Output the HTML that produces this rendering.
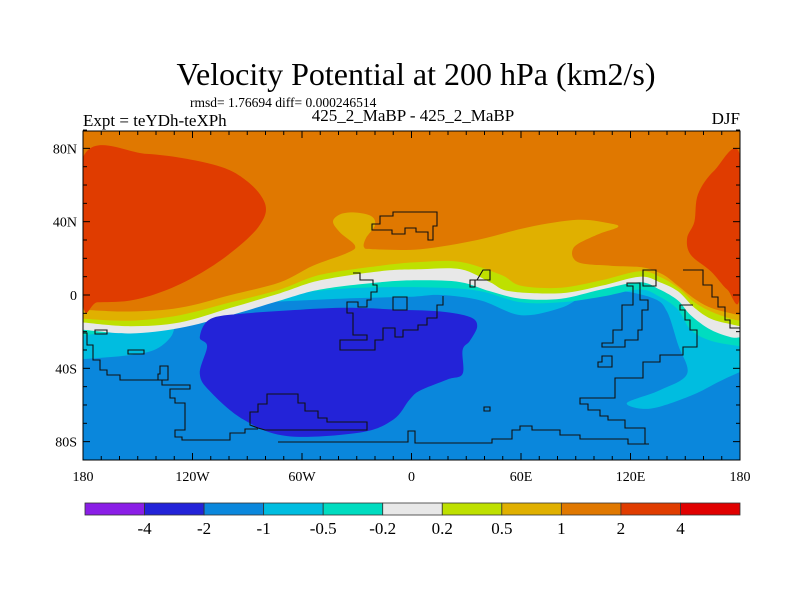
<!DOCTYPE html>
<html><head><meta charset="utf-8"><style>
body{margin:0;background:#fff;}
svg text{font-family:"Liberation Serif",serif;fill:#000;}
</style></head><body>
<svg id="chart" width="800" height="600" viewBox="0 0 800 600" xmlns="http://www.w3.org/2000/svg">
<rect width="800" height="600" fill="#fff"/>
<text x="416" y="85" font-size="32" text-anchor="middle">Velocity Potential at 200 hPa (km2/s)</text>
<text x="190" y="107" font-size="13.5">rmsd= 1.76694 diff= 0.000246514</text>
<text x="83" y="126" font-size="17">Expt = teYDh-teXPh</text>
<text x="413" y="121" font-size="17" text-anchor="middle">425_2_MaBP - 425_2_MaBP</text>
<text x="740" y="124" font-size="17" text-anchor="end">DJF</text>
<defs><clipPath id="pc"><rect x="83" y="131" width="657" height="329"/></clipPath></defs>
<g id="fills" clip-path="url(#pc)"></g>
<g id="coast" clip-path="url(#pc)" fill="none" stroke="#111" stroke-width="1.1">
<path d="M83,333H87V345H93V360H100V370H107V375H120V380H162V385H190V389H170V398H175V403H185V430H175V437H182V440H230V433H245V429H258"/>
<path d="M250,425V412H258V404H267V394H298V403H305V411H318V418H327V422H367V430H265L258,428Z"/>
<path d="M278,442H408V431H415V443H492V439H512V430H520V426H532V430H560V435H580V439H628V444H649"/>
<path d="M353,273H360V280H373V285H377V292H371V300H367V307H358V302H347V313H353V335H367V340H340V350H375V340H383V328H395V337H403V330H418V325H427V318H437V305H443V296"/>
<path d="M372,230V224H380V216H393V212H437V226H433V240H428V232H416V228H405V234H392V230Z"/>
<path d="M393,297H407V310H393Z"/>
<path d="M483,270H490V280H475V287H470V280H477Z"/>
<path d="M627,283V286H633V305H622V330H613V343H602V347H625V340H638V330H642V310H648V300H640V283Z"/>
<path d="M602,356H612V367H598V362H602Z"/>
<path d="M643,270H656V286H643Z"/>
<path d="M683,270H703V285H712V297H718V307H725V320H730V328H740"/>
<path d="M693,305H680V310H685V320H690V330H697V347H683V355H660V362H643V378H615V398H580V404H588V410H600V416H608V420H625V428H645V434H645V444"/>
<path d="M128,350H144V354H128Z"/>
<path d="M95,330H107V334H95Z"/>
<path d="M160,366H168V380H158V374H160Z"/>
<path d="M484,407H490V411H484Z"/>
</g>
<rect x="83" y="131" width="657" height="329" fill="none" stroke="#000" stroke-width="1"/>
<g id="axes"></g>
<g id="cbar"></g>
</svg>
<script>
const levels = [-4, -2, -1, -0.5, -0.2, 0.2, 0.5, 1, 2, 4];
const colors = ["#8a1ee6","#2323d8","#0a87dc","#00bde0","#00dcc0","#e8e8e8","#bee000","#e0b000","#e07800","#e03c00","#e00000"];
const latTicks = [80, 40, 0, -40, -80];
const lonTicks = [-180, -120, -60, 0, 60, 120, 180];
const lonLabels = ["180","120W","60W","0","60E","120E","180"];
const latLabels = ["80N","40N","0","40S","80S"];
const cNeg1 = [[-180,-35],[-156,-33],[-141,-30],[-132,-23],[-128,-14],[-119,-8],[-101,-4],[-83,-4],[-39,-2],[-1,-1],[16,0],[38,-3],[60,-11],[82,-7],[96,0],[115,2],[133,-2],[140,-9],[146,-27],[151,-43],[136,-52],[118,-59],[131,-62],[153,-55],[169,-47],[180,-42]];
const cNeg05 = [[-180,-22],[-156,-19],[-141,-13],[-128,-7],[-101,-2],[-65,1],[-28,4],[16,4],[38,2],[60,-4],[82,-4],[104,-1],[125,3],[136,-1],[146,-8],[153,-19],[164,-25],[180,-28]];
const cNeg02 = [[-180,-19],[-154,-21],[-127,-18],[-99,-11],[-72,-3],[-50,3],[-17,7],[5,8],[27,7],[43,2],[60,-2],[82,-2],[104,3],[125,7],[136,3],[146,-3],[153,-11],[164,-19],[175,-23],[180,-23]];
const cPos02 = [[-180,-15],[-154,-17],[-127,-15],[-99,-7],[-72,1],[-50,8],[-17,13],[5,14],[27,14],[43,7],[54,2],[82,1],[104,5],[125,10],[136,7],[146,2],[155,-7],[164,-13],[175,-16],[180,-17]];
const cPos05 = [[-180,-13],[-154,-14],[-127,-11],[-99,-4],[-72,3],[-50,11],[-17,16],[5,18],[27,18],[49,11],[60,5],[82,4],[104,8],[125,13],[136,10],[146,4],[155,-4],[164,-9],[175,-13],[180,-14]];
const cPos1 = [[-180,-8],[-154,-9],[-127,-7],[-99,0],[-72,7],[-54,16],[-35,23],[-31,27],[-39,34],[-43,40],[-39,44],[-31,45],[-22,43],[-20,38],[-25,31],[-26,26],[-21,25],[5,25],[36,30],[64,37],[91,41],[109,39],[113,37],[102,33],[89,26],[91,18],[109,16],[127,15],[138,11],[146,5],[155,-2],[164,-7],[175,-10],[180,-11]];
const blobNeg2 = [[-116,-23],[-110,-13],[-90,-10],[-61,-8],[-35,-7],[-6,-8],[16,-9],[32,-12],[36,-17],[32,-25],[28,-30],[28,-43],[20,-46],[5,-52],[-1,-57],[-10,-68],[-28,-75],[-68,-77],[-92,-68],[-110,-53],[-116,-43],[-112,-28]];
const blobPos2West = [[-180,75],[-145,77],[-108,71],[-90,62],[-80,49],[-84,37],[-99,23],[-117,11],[-136,2],[-154,-3],[-172,-4],[-180,-4]];
const blobPos2East = [[180,76],[166,68],[157,55],[155,40],[151,31],[153,22],[164,13],[173,3],[180,0]];

const X0=83, X1=740, Y0=131, Y1=460;
function xS(lon){return X0+(lon+180)/360*(X1-X0);}
function yS(lat){return 295-lat*1.833;}
const NS="http://www.w3.org/2000/svg";
function smooth(pts, closed){
  const p=pts.map(a=>[xS(a[0]),yS(a[1])]);
  const n=p.length; let d="M"+p[0][0].toFixed(1)+","+p[0][1].toFixed(1);
  const g=i=>closed?p[(i+n)%n]:p[Math.max(0,Math.min(n-1,i))];
  const last=closed?n:n-1;
  for(let i=0;i<last;i++){
    const a=g(i-1),b=g(i),c=g(i+1),e=g(i+2);
    const c1=[b[0]+(c[0]-a[0])/6,b[1]+(c[1]-a[1])/6];
    const c2=[c[0]-(e[0]-b[0])/6,c[1]-(e[1]-b[1])/6];
    d+="C"+c1.map(v=>v.toFixed(1))+" "+c2.map(v=>v.toFixed(1))+" "+c.map(v=>v.toFixed(1));
  }
  return d;
}
const fills=document.getElementById("fills");
function addPath(d,fill,name){
  const el=document.createElementNS(NS,"path");
  el.setAttribute("d",d);el.setAttribute("fill",fill);
  
  
  fills.appendChild(el);
}
function above(c){return smooth(c,false)+"L"+(X1+5)+","+(Y0-5)+"L"+(X0-5)+","+(Y0-5)+"Z";}
const bg=document.createElementNS(NS,"rect");
bg.setAttribute("x",X0);bg.setAttribute("y",Y0);bg.setAttribute("width",X1-X0);bg.setAttribute("height",Y1-Y0);bg.setAttribute("fill",colors[2]);


fills.appendChild(bg);
addPath(above(cNeg1),colors[3],"band-neg1-neg05");
addPath(above(cNeg05),colors[4],"band-neg05-neg02");
addPath(above(cNeg02),colors[5],"band-neg02-pos02");
addPath(above(cPos02),colors[6],"band-pos02-pos05");
addPath(above(cPos05),colors[7],"band-pos05-pos1");
addPath(above(cPos1),colors[8],"band-pos1-pos2");
addPath(smooth(blobPos2West,true)+"Z",colors[9],"band-pos2-west");
addPath(smooth(blobPos2East,true)+"Z",colors[9],"band-pos2-east");
addPath(smooth(blobNeg2,true)+"Z",colors[1],"band-neg4-neg2");

const ax=document.getElementById("axes");
function line(x1,y1,x2,y2,name){
  const l=document.createElementNS(NS,"line");
  l.setAttribute("x1",x1);l.setAttribute("y1",y1);l.setAttribute("x2",x2);l.setAttribute("y2",y2);
  l.setAttribute("stroke","#000");l.setAttribute("stroke-width","1");
  
  
  ax.appendChild(l);
}
function text(x,y,s,anchor,name,size){
  const t=document.createElementNS(NS,"text");
  t.setAttribute("x",x);t.setAttribute("y",y);t.setAttribute("text-anchor",anchor);t.setAttribute("font-size",size||14);
  t.textContent=s;
  
  
  return t;
}
for(let lat=-90;lat<=90;lat+=10){
  const y=yS(lat), L=(lat%40===0)?7:4;
  line(X0,y,X0+L,y,"lat-tick");line(X1,y,X1-L,y,"lat-tick");
}
for(let lon=-180;lon<=180;lon+=10){
  const x=xS(lon), L=(lon%60===0)?7:4;
  line(x,Y1,x,Y1-L,"lon-tick");line(x,Y0,x,Y0+L,"lon-tick");
}
latTicks.forEach((v,i)=>ax.appendChild(text(77,yS(v)+5,latLabels[i],"end","lat-label")));
lonTicks.forEach((v,i)=>ax.appendChild(text(xS(v),481,lonLabels[i],"middle","lon-label")));

const cb=document.getElementById("cbar");
const cbX=85, cbW=(740-85)/colors.length;
colors.forEach((c,i)=>{
  const r=document.createElementNS(NS,"rect");
  r.setAttribute("x",cbX+i*cbW);r.setAttribute("y",503);r.setAttribute("width",cbW);r.setAttribute("height",12);
  r.setAttribute("fill",c);r.setAttribute("stroke","#333");r.setAttribute("stroke-width","0.8");
  
  
  cb.appendChild(r);
});
levels.forEach((v,i)=>cb.appendChild(text(cbX+(i+1)*cbW,534,String(v),"middle","colorbar-label",17)));
</script>
</body></html>
